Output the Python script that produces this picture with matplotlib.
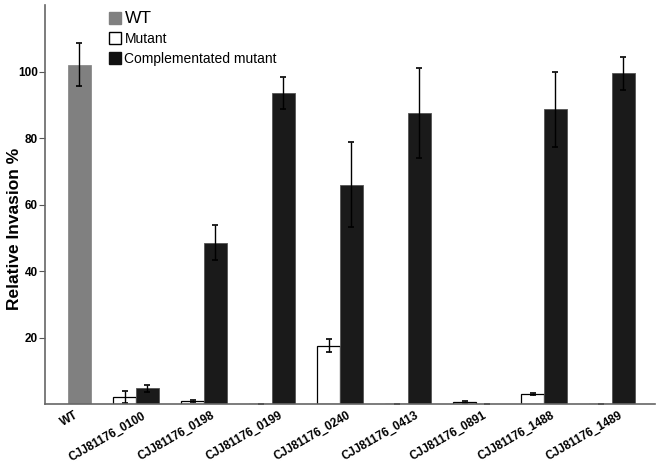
import matplotlib
matplotlib.use("Agg")
import matplotlib.pyplot as plt
import matplotlib.transforms as mtransforms
import numpy as np
from matplotlib.patches import Patch

plt.rcParams['font.family'] = ['Liberation Sans', 'DejaVu Sans']

categories = ["WT", "CJJ81176_0100", "CJJ81176_0198", "CJJ81176_0199",
              "CJJ81176_0240", "CJJ81176_0413", "CJJ81176_0891",
              "CJJ81176_1488", "CJJ81176_1489"]
wt_value = 102.0
wt_err = 6.5
mutant = [2.2, 0.9, 0.0, 17.5, 0.0, 0.6, 3.0, 0.0]
mutant_err = [1.8, 0.3, 0.0, 2.0, 0.0, 0.4, 0.3, 0.0]
complemented = [4.7, 48.5, 93.5, 66.0, 87.5, 0.0, 88.7, 99.5]
complemented_err = [1.0, 5.3, 4.7, 12.7, 13.5, 0.0, 11.3, 5.0]

fig = plt.figure(figsize=(6.6, 4.65), dpi=100)
ax = fig.add_axes([45/660, 1-404/465, (655-45)/660, (404-5)/465])

w = 1/3
x = np.arange(len(categories))
gx = x[1:]
ek = dict(ecolor='black', elinewidth=1.0, capsize=2.5, capthick=1.2)

ax.bar(x[0] + w/2, wt_value, w, color='#808080', edgecolor='#808080', linewidth=0.5,
       yerr=wt_err, error_kw=ek, zorder=2)
ax.bar(gx - w/2, mutant, w, color='white', edgecolor='black', linewidth=0.9,
       yerr=mutant_err, error_kw=ek, zorder=2)
ax.bar(gx + w/2, complemented, w, color='#1a1a1a', edgecolor='#555555', linewidth=0.6,
       yerr=complemented_err, error_kw=ek, zorder=2)

ax.set_xlim(-0.34, 8.63)
ax.set_ylim(0, 120)
ax.set_yticks([20, 40, 60, 80, 100])
ax.tick_params(axis='y', length=4, width=0.8, color='#555555', labelsize=8.5, pad=1)
for t in ax.get_yticklabels():
    t.set_fontweight('bold')
ax.set_xticks(x)
ax.set_xticklabels(categories, rotation=30, ha='right', rotation_mode='anchor',
                   fontsize=8.5, fontweight='bold')
ax.tick_params(axis='x', length=0, pad=4)
offset = mtransforms.ScaledTranslation(6/100, 0, fig.dpi_scale_trans)
for lbl in ax.get_xticklabels():
    lbl.set_transform(lbl.get_transform() + offset)

for s in ['top', 'right']:
    ax.spines[s].set_visible(False)
for s in ['left', 'bottom']:
    ax.spines[s].set_color('#666666')
    ax.spines[s].set_linewidth(1.2)

ax.set_ylabel("Relative Invasion %", fontsize=12.5, fontweight='bold')
ax.yaxis.set_label_coords(-0.038, 0.44)

handles = [Patch(facecolor='#808080', edgecolor='#808080'),
           Patch(facecolor='white', edgecolor='black', linewidth=1.0),
           Patch(facecolor='#111111', edgecolor='#111111')]
leg = ax.legend(handles, ["WT", "Mutant", "Complementated mutant"], loc='upper left',
                bbox_to_anchor=(0.095, 1.0), frameon=False, fontsize=10,
                handlelength=0.9, handleheight=0.9, handletextpad=0.25,
                labelspacing=0.45, borderaxespad=0)
leg.get_texts()[0].set_fontsize(12.5)

fig.savefig("out.png", dpi=100)
